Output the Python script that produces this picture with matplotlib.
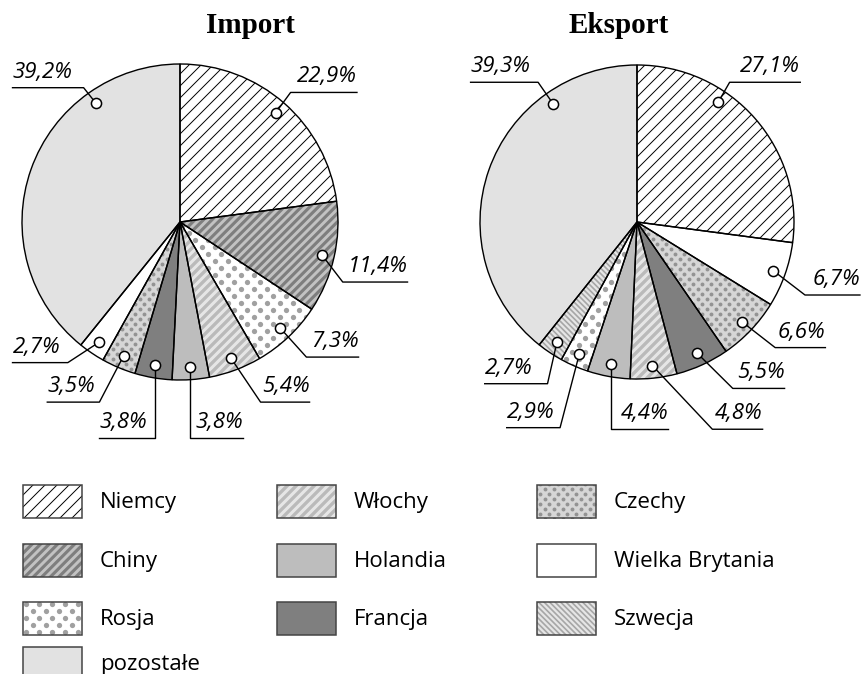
import numpy as np
import matplotlib
matplotlib.use('Agg')
import matplotlib.pyplot as plt
from matplotlib.patches import Rectangle
from matplotlib.collections import LineCollection

# dane
import_names = ['Niemcy', 'Chiny', 'Rosja', 'Włochy', 'Holandia', 'Francja',
                'Czechy', 'Wielka Brytania', 'pozostałe']
import_values = [22.9, 11.4, 7.3, 5.4, 3.8, 3.8, 3.5, 2.7, 39.2]

export_names = ['Niemcy', 'Wielka Brytania', 'Czechy', 'Francja', 'Włochy',
                'Holandia', 'Rosja', 'Szwecja', 'pozostałe']
export_values = [27.1, 6.7, 6.6, 5.5, 4.8, 4.4, 2.9, 2.7, 39.3]

legend_cols = [['Niemcy', 'Chiny', 'Rosja', 'pozostałe'],
               ['Włochy', 'Holandia', 'Francja'],
               ['Czechy', 'Wielka Brytania', 'Szwecja']]

# wyglad wycinkow
styles = {
    'Niemcy': dict(face='white', kind='lines', dir=1, color='black', period=12, lw=0.7),
    'Chiny': dict(face='#7e7e7e', kind='lines', dir=1, color='#c2c2c2', period=8.5, lw=2.1),
    'Rosja': dict(face='white', kind='dots', color='#a0a0a0', dx=13, dy=7, ms=3.8),
    'Włochy': dict(face='#e6e6e6', kind='lines', dir=1, color='#bababa', period=9, lw=2.4),
    'Holandia': dict(face='#bdbdbd'),
    'Francja': dict(face='#7f7f7f'),
    'Czechy': dict(face='#d6d6d6', kind='dots', color='#939393', dx=9, dy=5, ms=2.8),
    'Wielka Brytania': dict(face='white'),
    'Szwecja': dict(face='#e6e6e6', kind='lines', dir=-1, color='#a6a6a6', period=5.5, lw=1.2),
    'pozostałe': dict(face='#e2e2e2'),
}

# polozenie etykiet: (lokiec x, lokiec y, koniec kreski x) w promieniach, ulamek wycinka dla kolka
import_annot = [(0.70, 0.82, 1.12, 0.5), (1.03, -0.38, 1.44, 0.5), (0.80, -0.855, 1.13, 0.5),
                (0.51, -1.14, 0.82, 0.5), (None, -1.37, 0.40, 0.5), (None, -1.37, -0.51, 0.5),
                (-0.51, -1.14, -0.84, 0.5), (-0.71, -0.89, -1.06, 0.5), (-0.61, 0.85, -1.06, 0.75)]
export_annot = [(0.59, 0.89, 1.04, 0.35), (1.07, -0.465, 1.42, 0.5), (0.88, -0.80, 1.20, 0.5),
                (0.61, -1.06, 0.94, 0.5), (0.48, -1.32, 0.80, 0.5), (None, -1.32, 0.20, 0.5),
                (-0.49, -1.31, -0.83, 0.5), (-0.57, -1.03, -0.97, 0.5), (-0.63, 0.89, -1.06, 0.75)]

W, H = 865, 674
fig = plt.figure(figsize=(W / 100, H / 100), dpi=100)
ax = fig.add_axes([0, 0, 1, 1])

LABEL_FONT = dict(family=['Open Sans', 'DejaVu Sans'], style='italic', size=16)
LEGEND_FONT = dict(family=['Open Sans', 'DejaVu Sans'], size=16)


def Y(py):
    return H - py


def pattern(patch, st):
    if 'kind' not in st:
        return
    ext = patch.get_path().transformed(patch.get_patch_transform()).get_extents()
    x0, y0, x1, y1 = ext.x0 - 2, ext.y0 - 2, ext.x1 + 2, ext.y1 + 2
    if st['kind'] == 'lines':
        p = st['period']
        segs = []
        if st['dir'] == 1:
            for c in np.arange(np.floor((y0 - x1) / p) * p, y1 - x0 + p, p):
                segs.append([(x0, x0 + c), (x1, x1 + c)])
        else:
            for c in np.arange(np.floor((x0 + y0) / p) * p, x1 + y1 + p, p):
                segs.append([(x0, c - x0), (x1, c - x1)])
        lc = LineCollection(segs, colors=st['color'], linewidths=st['lw'], zorder=2)
        ax.add_collection(lc, autolim=False)
        lc.set_clip_path(patch)
    else:
        dx, dy = st['dx'], st['dy']
        ys = np.arange(np.floor(y0 / dy) * dy, y1 + dy, dy)
        for y in ys:
            off = (int(round(y / dy)) % 2) * dx / 2
            xs = np.arange(np.floor(x0 / dx) * dx + off, x1 + dx, dx)
            ln, = ax.plot(xs, np.full_like(xs, y), 'o', ms=st['ms'], color=st['color'],
                          mec='none', zorder=2)
            ln.set_clip_path(patch)


def draw_pie(values, names, annot, cx, cy, R, title, tx):
    faces = [styles[n]['face'] for n in names]
    wedges, _ = ax.pie(values, colors=faces, startangle=90, counterclock=False,
                       center=(cx, cy), radius=R, wedgeprops=dict(linewidth=0))
    for w, n in zip(wedges, names):
        pattern(w, styles[n])
    ax.pie(values, colors=['none'] * len(values), startangle=90, counterclock=False,
           center=(cx, cy), radius=R,
           wedgeprops=dict(edgecolor='black', linewidth=1.0, zorder=3))
    for w, v, (eu, ev, endu, t) in zip(wedges, values, annot):
        ang = np.radians(w.theta2 - t * (w.theta2 - w.theta1))
        mx, my = cx + 0.92 * R * np.cos(ang), cy + 0.92 * R * np.sin(ang)
        ex = mx if eu is None else cx + eu * R
        ey = cy + ev * R
        endx = cx + endu * R
        ax.plot([mx, ex, endx], [my, ey, ey], color='black', lw=1.0, zorder=4)
        ax.plot(mx, my, 'o', ms=7.3, mfc='white', mec='black', mew=1.1, zorder=5)
        txt = f'{v:.1f}'.replace('.', ',') + '%'
        ax.text(endx, ey + 10, txt, ha='right' if endx > ex else 'left',
                va='baseline', **LABEL_FONT)
    ax.text(tx, Y(33), title, ha='center', va='baseline', family='Liberation Serif',
            weight='bold', size=21)


draw_pie(import_values, import_names, import_annot, 180, Y(222), 158, 'Import', 250)
draw_pie(export_values, export_names, export_annot, 637, Y(222), 157, 'Eksport', 619)

# legenda
col_x = [23, 277, 537]
row_top = [485, 544, 602, 647]
for col, x in zip(legend_cols, col_x):
    for name, top in zip(col, row_top):
        st = styles[name]
        box = Rectangle((x, Y(top + 33)), 59, 33, facecolor=st['face'], lw=0, zorder=1)
        ax.add_patch(box)
        pattern(box, st)
        ax.add_patch(Rectangle((x, Y(top + 33)), 59, 33, fill=False, ec='#444444',
                               lw=1.1, zorder=3))
        ax.text(x + 77, Y(top + 23), name, ha='left', va='baseline', **LEGEND_FONT)

ax.set_xlim(0, W)
ax.set_ylim(0, H)
ax.set_aspect('equal')
ax.axis('off')
fig.savefig('out.png', dpi=100)
